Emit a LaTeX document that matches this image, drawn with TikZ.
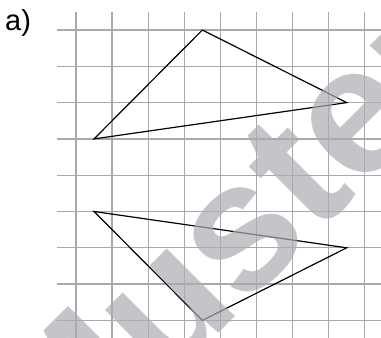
\documentclass[tikz,border=0pt]{standalone}
\usepackage{fontspec}
\setmainfont{Liberation Sans}
\definecolor{gridgray}{RGB}{168,168,174}
\definecolor{wmgray}{RGB}{172,171,178}
\begin{document}
\begin{tikzpicture}[x=1pt,y=-1pt,
  gridline/.style={draw=gridgray,line width=1.3pt},
  tri/.style={draw=black,line width=1.2pt,line join=miter},
  lbl/.style={inner sep=0pt,font=\fontsize{29}{29}\selectfont},
  wm/.style={inner sep=0pt,text=wmgray,text opacity=0.7,rotate=45,font=\fontsize{182}{182}\selectfont\bfseries}]
\useasboundingbox (0,0) rectangle (381,338);
% grid
\foreach \i in {0,...,8} {
  \draw[gridline] ({76+36.1*\i},12) -- ({76+36.1*\i},338);
  \draw[gridline] (57,{30+36.3*\i}) -- (381,{30+36.3*\i});
}
% triangles (grid units: x=76+36.1*i, y=30+36.3*j)
\coordinate (A1) at ({76+36.1*0.5},{30+36.3*3});
\coordinate (B1) at ({76+36.1*3.5},{30+36.3*0});
\coordinate (C1) at ({76+36.1*7.5},{30+36.3*2});
\draw[tri] (A1) -- (B1) -- (C1) -- cycle;
\coordinate (A2) at ({76+36.1*0.5},{30+36.3*5});
\coordinate (B2) at ({76+36.1*7.5},{30+36.3*6});
\coordinate (C2) at ({76+36.1*3.5},{30+36.3*8});
\draw[tri] (A2) -- (B2) -- (C2) -- cycle;
% label
\node[lbl,anchor=base west] (lab) at (5,30) {a)};
% watermark
\node[wm,anchor=base west] (wmk) at (58,494) {Muster};
\end{tikzpicture}
\end{document}
